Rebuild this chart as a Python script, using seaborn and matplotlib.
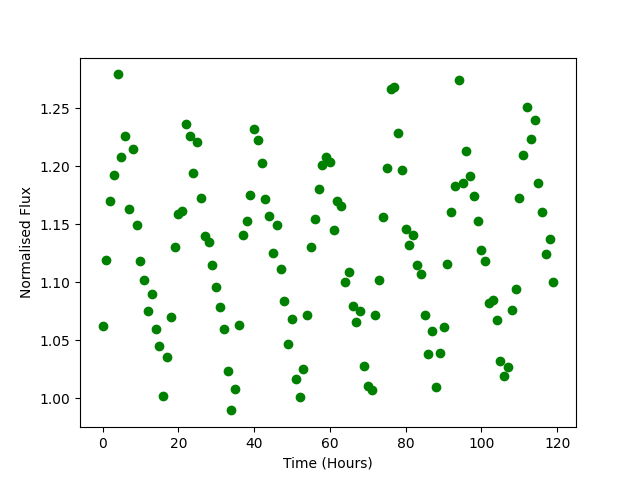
import numpy as np
import pandas as pd
import matplotlib
matplotlib.use("Agg")
import matplotlib.pyplot as plt
import seaborn as sns

# Time in hours (one reading per hour)
time_hours = list(range(120))

# Normalised flux values
flux = [
    1.0627, 1.1196, 1.1696, 1.1928, 1.2790, 1.2075, 1.2256, 1.1627, 1.2144, 1.1497,
    1.1187, 1.1023, 1.0756, 1.0902, 1.0600, 1.0454, 1.0023, 1.0360, 1.0704, 1.1307,
    1.1584, 1.1618, 1.2360, 1.2256, 1.1937, 1.2204, 1.1722, 1.1399, 1.1351, 1.1152,
    1.0963, 1.0790, 1.0601, 1.0239, 0.9897, 1.0084, 1.0635, 1.1403, 1.1532, 1.1750,
    1.2316, 1.2221, 1.2023, 1.1713, 1.1569, 1.1256, 1.1491, 1.1118, 1.0836, 1.0471,
    1.0681, 1.0170, 1.0015, 1.0256, 1.0722, 1.1308, 1.1549, 1.1799, 1.2006, 1.2075,
    1.2032, 1.1446, 1.1698, 1.1658, 1.1006, 1.1092, 1.0799, 1.0661, 1.0756, 1.0282,
    1.0109, 1.0072, 1.0722, 1.1023, 1.1566, 1.1980, 1.2664, 1.2678, 1.2282, 1.1963,
    1.1463, 1.1325, 1.1403, 1.1153, 1.1075, 1.0722, 1.0385, 1.0584, 1.0101, 1.0394,
    1.0618, 1.1161, 1.1601, 1.1825, 1.2739, 1.1859, 1.2127, 1.1911, 1.1739, 1.1532,
    1.1282, 1.1187, 1.0825, 1.0851, 1.0678, 1.0325, 1.0196, 1.0273, 1.0765, 1.0946,
    1.1722, 1.2092, 1.2506, 1.2230, 1.2394, 1.1859, 1.1609, 1.1247, 1.1377, 1.1000,
]

df = pd.DataFrame({"time": time_hours, "flux": flux})

fig, ax = plt.subplots(figsize=(6.4, 4.8), dpi=100)
sns.scatterplot(data=df, x="time", y="flux", color="green", s=36,
                edgecolor="green", linewidth=1, ax=ax)
ax.set_xlabel("Time (Hours)")
ax.set_ylabel("Normalised Flux")

fig.savefig("out.png", dpi=100)
